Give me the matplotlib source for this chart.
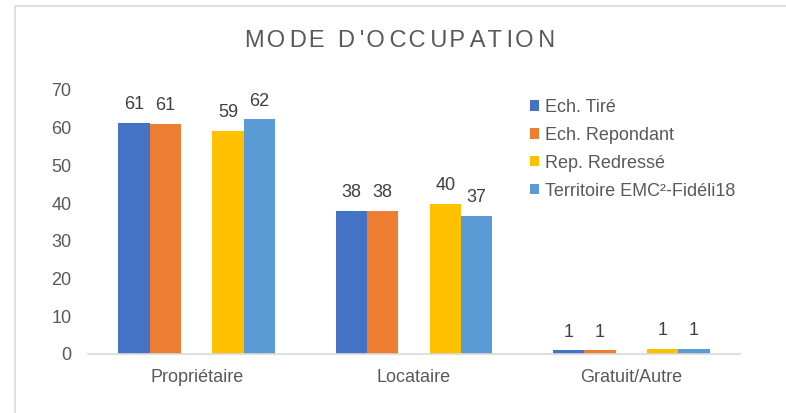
import numpy as np
import matplotlib.pyplot as plt
from matplotlib.patches import Rectangle

plt.rcParams['font.family'] = ['Liberation Sans', 'DejaVu Sans']

# Donnees
categories = ['Propriétaire', 'Locataire', 'Gratuit/Autre']
series = ['Ech. Tiré', 'Ech. Repondant', 'Rep. Redressé', 'Territoire EMC²-Fidéli18']
ech_tire = [61.3, 37.9, 1.0]
ech_repondant = [61.0, 37.9, 1.0]
rep_redresse = [59.2, 39.8, 1.3]
territoire = [62.2, 36.6, 1.4]
labels = [['61', '38', '1'], ['61', '38', '1'], ['59', '40', '1'], ['62', '37', '1']]

colors = ['#4472C4', '#ED7D31', '#FFC000', '#5B9BD5']
values = [ech_tire, ech_repondant, rep_redresse, territoire]

fig = plt.figure(figsize=(7.86, 4.13), dpi=100)

# cadre gris du graphique
fig.patches.append(Rectangle((15/786, -0.1), 1.2, 1.1 - 6/413, transform=fig.transFigure,
                             fill=False, edgecolor='#D9D9D9', linewidth=1.2))

ax = fig.add_axes([88/786, (413-354)/413, (740-88)/786, (354-90)/413])

x = np.arange(len(categories))
w = 0.144
slots = [-2, -1, 1, 2]  # slot vide au milieu de chaque groupe
for i in range(4):
    pos = x + slots[i]*w
    bars = ax.bar(pos, values[i], width=w, color=colors[i], label=series[i])
    for b, lab in zip(bars, labels[i]):
        ax.annotate(lab, (b.get_x() + b.get_width()/2, b.get_height()),
                    xytext=(0, 7), textcoords='offset points',
                    ha='center', va='bottom', fontsize=13, color='#404040')

ax.set_xlim(-0.5, 2.5)
ax.set_ylim(0, 70)
ax.set_yticks(range(0, 71, 10))
ax.set_xticks(x)
ax.set_xticklabels(categories)
ax.tick_params(axis='both', length=0, labelsize=13, labelcolor='#595959')
ax.tick_params(axis='x', pad=11)
ax.tick_params(axis='y', pad=12)
for s in ['top', 'right', 'left']:
    ax.spines[s].set_visible(False)
ax.spines['bottom'].set_color('#D9D9D9')
ax.spines['bottom'].set_linewidth(1.2)

# titre avec espacement des lettres (espaces fines / ultra-fines en alternance)
titre = "MODE D'OCCUPATION"
espaces = ['\u200a', '\u2009']
titre_esp = titre[0]
for k, c in enumerate(titre[1:]):
    titre_esp += espaces[k % 2] + c
fig.text(400/786, 1 - 41/413, titre_esp, ha='center', va='center',
         fontsize=17, color='#595959')

fig.legend(loc='upper left', bbox_to_anchor=(521/786, 1 - 90/413), frameon=False,
           fontsize=13, labelcolor='#595959', handlelength=0.5, handleheight=0.5,
           handletextpad=0.35, labelspacing=0.6, borderpad=0)

fig.savefig('out.png', dpi=100)
